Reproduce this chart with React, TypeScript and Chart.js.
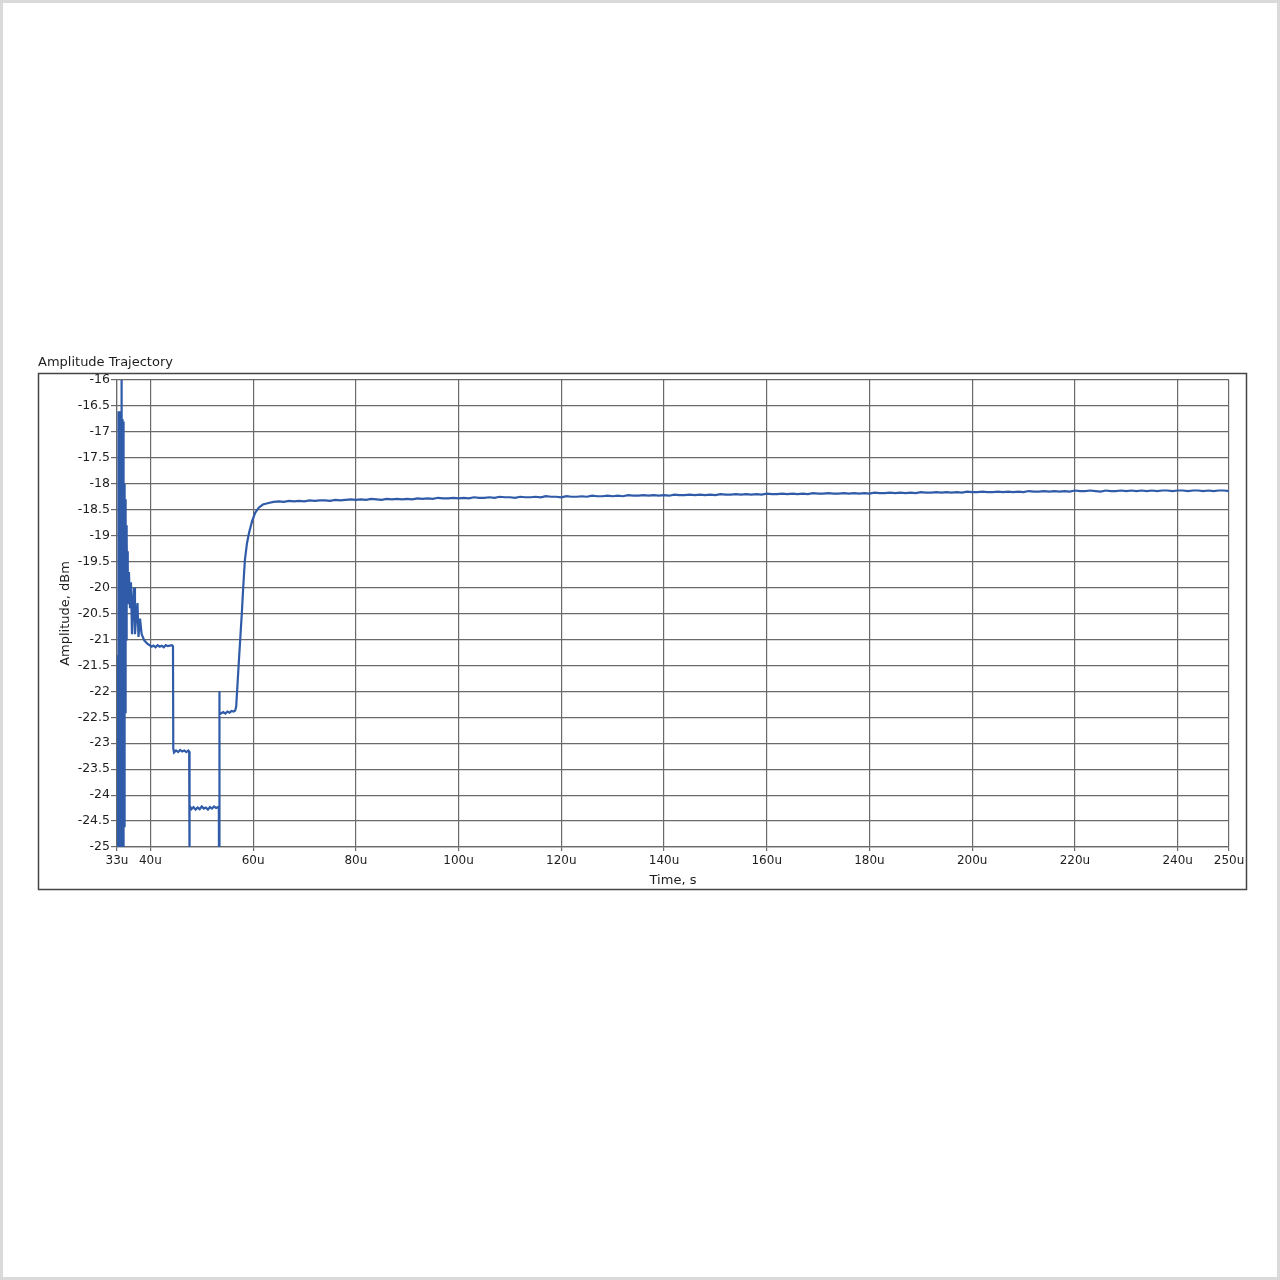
import React, { useEffect, useRef } from 'react';
import { Chart, registerables } from 'chart.js';

Chart.register(...registerables);

const CHART_TITLE = 'Amplitude Trajectory';
const X_TITLE = 'Time, s';
const Y_TITLE = 'Amplitude, dBm';

const X_MIN = 33.5;
const X_MAX = 250;
const Y_MIN = -25;
const Y_MAX = -16;

const xTickValues = [33.5, 40, 60, 80, 100, 120, 140, 160, 180, 200, 220, 240, 250];
const xTickLabels = ['33u', '40u', '60u', '80u', '100u', '120u', '140u', '160u', '180u', '200u', '220u', '240u', '250u'];

const yTickValues = [-16, -16.5, -17, -17.5, -18, -18.5, -19, -19.5, -20, -20.5, -21, -21.5, -22, -22.5, -23, -23.5, -24, -24.5, -25];
const yTickLabels = ['-16', '-16.5', '-17', '-17.5', '-18', '-18.5', '-19', '-19.5', '-20', '-20.5', '-21', '-21.5', '-22', '-22.5', '-23', '-23.5', '-24', '-24.5', '-25'];

// Initial burst + settling (time in microseconds, amplitude in dBm)
const earlyTime = [
  33.55, 33.6, 33.65, 33.7, 33.75, 33.8, 33.85, 33.9, 33.95, 34.0,
  34.05, 34.1, 34.15, 34.2, 34.25, 34.3, 34.35, 34.4, 34.44, 34.48,
  34.53, 34.58, 34.63, 34.68, 34.73, 34.78, 34.83, 34.88, 34.93, 34.98,
  35.03, 35.08, 35.13, 35.18, 35.23, 35.28, 35.33, 35.38, 35.43, 35.48,
  35.55, 35.64, 35.83, 36.03, 36.22, 36.42, 36.61, 36.81, 37.0, 37.29,
  37.49, 37.68, 37.98, 38.3, 38.8, 39.4, 40.25,
];
const earlyAmp = [
  -25.5, -22.4, -25.5, -21.3, -25.5, -16.6, -25.5, -16.6, -25.5, -16.6,
  -25.5, -16.62, -25.5, -16.65, -25.5, -16.7, -25.5, -16.72, -16.0, -25.5,
  -16.75, -25.5, -16.75, -25.5, -16.8, -25.5, -17.9, -24.6, -18.0, -23.2,
  -18.1, -22.4, -18.3, -21.6, -18.6, -21.0, -18.8, -20.6, -19.0, -20.3,
  -19.3, -19.85, -19.7, -20.4, -19.9, -20.9, -20.3, -20.0, -20.9, -20.5,
  -20.3, -20.95, -20.6, -20.9, -21.02, -21.08, -21.14,
];

// Stepped plateaus and recovery ramp
const stepTime = [
  40.6, 41.0, 41.4, 41.8, 42.2, 42.6, 43.0, 43.4, 43.8, 44.2, 44.4,
  44.46, 44.6, 45.0, 45.4, 45.8, 46.2, 46.6, 47.0, 47.4, 47.55,
  47.58, 47.6, 47.7, 48.0, 48.4, 48.8, 49.2, 49.6, 50.0, 50.4, 50.8, 51.2, 51.6, 52.0, 52.4, 52.8, 53.2, 53.33,
  53.36, 53.4, 53.5, 53.8, 54.2, 54.6, 55.0, 55.4, 55.8, 56.2, 56.5,
  56.7, 57.0, 57.3, 57.55, 57.8, 58.1, 58.4, 58.8, 59.2, 59.8, 60.4, 61.1, 61.9, 63.0,
];
const stepAmp = [
  -21.12, -21.15, -21.11, -21.14, -21.12, -21.15, -21.11, -21.13, -21.12, -21.11, -21.13,
  -23.1, -23.18, -23.14, -23.17, -23.13, -23.16, -23.14, -23.17, -23.14, -23.16,
  -25.5, -23.85, -24.2, -24.27, -24.23, -24.28, -24.24, -24.27, -24.22, -24.26, -24.24, -24.28, -24.23, -24.26, -24.22, -24.25, -24.23, -24.24,
  -25.5, -22.0, -22.45, -22.42, -22.4, -22.43, -22.39, -22.41, -22.38, -22.39, -22.37,
  -22.3, -21.8, -21.3, -20.9, -20.5, -19.95, -19.47, -19.15, -18.95, -18.72, -18.56, -18.46, -18.4, -18.37,
];

// Steady state, one sample per microsecond from 64u to 250u
const steadyStartTime = 64;
const steadyAmp = [
  -18.35, -18.34, -18.35, -18.33, -18.34, -18.33, -18.34, -18.32, -18.33, -18.32,
  -18.32, -18.33, -18.31, -18.32, -18.31, -18.30, -18.31, -18.30, -18.31, -18.29,
  -18.30, -18.31, -18.29, -18.30, -18.29, -18.30, -18.29, -18.30, -18.28, -18.29,
  -18.28, -18.29, -18.27, -18.28, -18.28, -18.27, -18.28, -18.27, -18.28, -18.26,
  -18.27, -18.27, -18.26, -18.27, -18.25, -18.26, -18.26, -18.27, -18.25, -18.26,
  -18.26, -18.25, -18.26, -18.24, -18.25, -18.25, -18.26, -18.24, -18.25, -18.25,
  -18.24, -18.25, -18.23, -18.24, -18.24, -18.23, -18.24, -18.23, -18.24, -18.22,
  -18.23, -18.23, -18.22, -18.23, -18.22, -18.23, -18.22, -18.23, -18.21, -18.22,
  -18.22, -18.21, -18.22, -18.21, -18.22, -18.21, -18.22, -18.20, -18.21, -18.21,
  -18.20, -18.21, -18.20, -18.21, -18.20, -18.21, -18.19, -18.20, -18.20, -18.19,
  -18.20, -18.19, -18.20, -18.19, -18.20, -18.18, -18.19, -18.19, -18.18, -18.19,
  -18.19, -18.18, -18.19, -18.18, -18.19, -18.18, -18.19, -18.17, -18.18, -18.18,
  -18.17, -18.18, -18.17, -18.18, -18.17, -18.18, -18.16, -18.17, -18.17, -18.16,
  -18.17, -18.16, -18.17, -18.16, -18.17, -18.15, -18.16, -18.16, -18.15, -18.16,
  -18.16, -18.15, -18.16, -18.15, -18.16, -18.15, -18.16, -18.14, -18.15, -18.15,
  -18.14, -18.15, -18.14, -18.15, -18.14, -18.15, -18.13, -18.14, -18.14, -18.13,
  -18.14, -18.15, -18.13, -18.14, -18.14, -18.13, -18.14, -18.13, -18.14, -18.13,
  -18.14, -18.13, -18.14, -18.13, -18.13, -18.14, -18.13, -18.13, -18.14, -18.13,
  -18.13, -18.14, -18.13, -18.14, -18.13, -18.13, -18.14,
];

const FONT = '"DejaVu Sans", Verdana, sans-serif';

const framePlugin = {
  id: 'frame',
  beforeDraw(chart: any) {
    const ctx = chart.ctx;
    ctx.save();
    ctx.fillStyle = '#ffffff';
    ctx.fillRect(0, 0, chart.width, chart.height);
    ctx.strokeStyle = '#dadada';
    ctx.lineWidth = 3;
    ctx.strokeRect(1.5, 1.5, chart.width - 3, chart.height - 3);
    ctx.strokeStyle = '#444444';
    ctx.lineWidth = 1.5;
    ctx.strokeRect(38.5, 373.5, 1208, 516);
    ctx.fillStyle = '#1e1e1e';
    ctx.font = `13px ${FONT}`;
    ctx.textBaseline = 'middle';
    ctx.textAlign = 'left';
    ctx.fillText(CHART_TITLE, 38, 363);
    ctx.restore();
  },
};

export default function App() {
  const ref = useRef<HTMLCanvasElement | null>(null);

  useEffect(() => {
    if (!ref.current) return;
    const points: { x: number; y: number }[] = [];
    earlyTime.forEach((t, i) => points.push({ x: t, y: earlyAmp[i] }));
    stepTime.forEach((t, i) => points.push({ x: t, y: stepAmp[i] }));
    steadyAmp.forEach((a, i) => points.push({ x: steadyStartTime + i, y: a }));

    const gridColor = '#6a6a6a';
    const chart = new Chart(ref.current, {
      type: 'line',
      data: {
        datasets: [
          {
            data: points,
            borderColor: '#2f5ba8',
            borderWidth: 2.2,
            pointRadius: 0,
            tension: 0,
            fill: false,
          },
        ],
      },
      options: {
        animation: false,
        responsive: false,
        maintainAspectRatio: false,
        layout: { padding: { top: 380, right: 51, bottom: 390, left: 50 } },
        plugins: {
          legend: { display: false },
          tooltip: { enabled: false },
          title: { display: false },
        },
        scales: {
          x: {
            type: 'linear',
            min: X_MIN,
            max: X_MAX,
            afterBuildTicks: (scale: any) => {
              scale.ticks = xTickValues.map((v) => ({ value: v }));
            },
            afterFit: (scale: any) => {
              scale.height = 43;
            },
            ticks: {
              autoSkip: false,
              maxRotation: 0,
              minRotation: 0,
              padding: 3,
              color: '#1e1e1e',
              font: { family: FONT, size: 12 },
              callback: (value: any) => {
                const idx = xTickValues.indexOf(Number(value));
                return idx >= 0 ? xTickLabels[idx] : '';
              },
            },
            grid: { color: gridColor, lineWidth: 1.2, tickLength: 4, tickColor: gridColor },
            border: { display: true, color: gridColor, width: 1.2 },
            title: {
              display: true,
              text: X_TITLE,
              color: '#1e1e1e',
              font: { family: FONT, size: 13 },
              padding: { top: 0, bottom: 2 },
            },
          },
          y: {
            type: 'linear',
            min: Y_MIN,
            max: Y_MAX,
            afterBuildTicks: (scale: any) => {
              scale.ticks = yTickValues.map((v) => ({ value: v }));
            },
            afterFit: (scale: any) => {
              scale.width = 67;
            },
            ticks: {
              autoSkip: false,
              padding: 1,
              color: '#1e1e1e',
              font: { family: FONT, size: 12.5 },
              callback: (value: any) => {
                const idx = yTickValues.indexOf(Number(value));
                return idx >= 0 ? yTickLabels[idx] : '';
              },
            },
            grid: { color: gridColor, lineWidth: 1.2, tickLength: 6, tickColor: gridColor },
            border: { display: true, color: gridColor, width: 1.2 },
            title: {
              display: true,
              text: Y_TITLE,
              color: '#1e1e1e',
              font: { family: FONT, size: 13 },
              padding: { top: 8, bottom: 0 },
            },
          },
        },
      },
      plugins: [framePlugin],
    });
    return () => chart.destroy();
  }, []);

  return (
    <div style={{ position: 'absolute', left: 0, top: 0, width: 1280, height: 1280 }}>
      <canvas ref={ref} width={1280} height={1280} style={{ width: 1280, height: 1280, display: 'block' }} />
    </div>
  );
}
